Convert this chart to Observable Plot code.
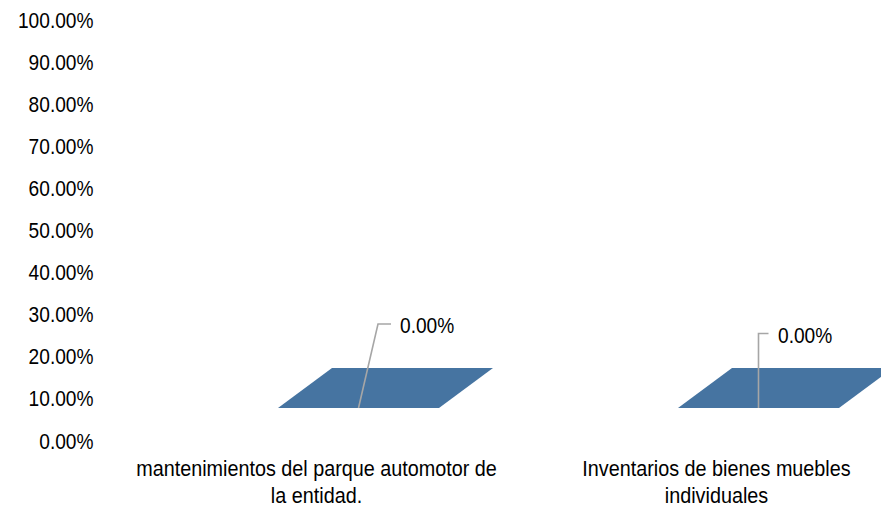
<!DOCTYPE html>
<html>
<head>
<meta charset="utf-8">
<script src="https://cdn.jsdelivr.net/npm/d3@7"></script>
<script src="https://cdn.jsdelivr.net/npm/@observablehq/plot@0.6"></script>
<style>
  html, body { margin: 0; padding: 0; background: #fff; overflow: hidden; }
  #chart { position: absolute; left: 0; top: 0; }
  #chart svg { max-width: none !important; }
</style>
</head>
<body>
<div id="chart"></div>
<script>
// ---- data ----
const categories = [
  "mantenimientos del parque automotor de la entidad.",
  "Inventarios de bienes muebles individuales"
];
const tickLabels = [
  "mantenimientos del parque automotor de\nla entidad.",
  "Inventarios de bienes muebles\nindividuales"
];
const values = [0, 0];
const valueLabels = ["0.00%", "0.00%"];
const yTicks = [0, 0.1, 0.2, 0.3, 0.4, 0.5, 0.6, 0.7, 0.8, 0.9, 1];

// ---- styling ----
const FONT_SIZE = 22;
const TEXT_SQUEEZE = 0.87;                   // narrow typeface look
const CAT_SQUEEZE = 0.9;
const BAR_COLOR = "#4674a1";
const FRONT_COLOR = "#3a618a";
const FRONT_LEFT = -38, FRONT_RIGHT = 123;   // front edge relative to category point
const DEPTH_X = 54, DEPTH_Y = -40;           // depth of the top face
const FLOOR_DY = -33;                        // floor front edge relative to value position
// per-label leader geometry relative to front-edge centre
const leaderStyle = [
  {ex: 19.5, ey: -84, hx: 32.5, tx: 41.5, ty: -83},
  {ex: 0, ey: -74.5, hx: 10, tx: 19.5, ty: -73}
];

const table = categories.map((c, i) => ({cat: c, value: values[i], label: valueLabels[i]}));

function bars3d(index, scales, V) {
  const g = d3.create("svg:g");
  for (const i of index) {
    const cx = V.x[i];
    const top = V.y[i] + FLOOR_DY;
    const floor = scales.y(0) + FLOOR_DY;
    const xl = cx + FRONT_LEFT, xr = cx + FRONT_RIGHT;
    if (floor - top > 0) {
      g.append("path")
        .attr("d", `M${xl},${floor}H${xr}V${top}H${xl}Z`)
        .attr("fill", FRONT_COLOR);
      g.append("path")
        .attr("d", `M${xr},${floor}L${xr + DEPTH_X},${floor + DEPTH_Y}V${top + DEPTH_Y}L${xr},${top}Z`)
        .attr("fill", FRONT_COLOR);
    }
    g.append("path")
      .attr("d", `M${xl},${top}L${xr},${top}L${xr + DEPTH_X},${top + DEPTH_Y}L${xl + DEPTH_X},${top + DEPTH_Y}Z`)
      .attr("fill", BAR_COLOR);
    const s = leaderStyle[i];
    const mx = (xl + xr) / 2;
    g.append("path")
      .attr("d", `M${mx},${top}L${mx + s.ex},${top + s.ey}L${mx + s.hx},${top + s.ey}`)
      .attr("fill", "none")
      .attr("stroke", "#a6a6a6")
      .attr("stroke-width", 1.6);
    g.append("text")
      .attr("transform", `translate(${mx + s.tx},${top + s.ty}) scale(${TEXT_SQUEEZE},1)`)
      .attr("dy", "0.35em")
      .attr("text-anchor", "start")
      .attr("fill", "#000")
      .text(table[i].label);
  }
  return g.node();
}

const chart = Plot.plot({
  width: 881,
  height: 508,
  marginLeft: 100,
  marginRight: 0,
  marginTop: 20,
  marginBottom: 67,
  style: {fontFamily: "'Liberation Sans', Arial, sans-serif", fontSize: FONT_SIZE + "px", color: "#000", background: "#fff", overflow: "visible"},
  x: {type: "point", domain: categories, range: [115, 916], padding: 0.5},
  y: {domain: [0, 1], range: [441, 20]},
  marks: [
    Plot.axisY({ticks: yTicks, tickFormat: d3.format(".2%"), tickSize: 0, tickPadding: 7, label: null, fill: "#000"}),
    Plot.axisX({tickSize: 0, tickPadding: 16, tickFormat: d => tickLabels[categories.indexOf(d)], lineHeight: 1.2, label: null, fill: "#000"}),
    Plot.dot(table, {x: "cat", y: "value", render: bars3d})
  ]
});
// narrow the axis tick labels horizontally around their anchor
chart.querySelectorAll('g[aria-label="y-axis tick label"] text').forEach(t => {
  const tr = t.getAttribute("transform") || "";
  t.setAttribute("transform", `${tr} scale(${TEXT_SQUEEZE},1)`);
});
chart.querySelectorAll('g[aria-label="x-axis tick label"] text').forEach(t => {
  const tr = t.getAttribute("transform") || "";
  t.setAttribute("transform", `${tr} scale(${CAT_SQUEEZE},1)`);
});
document.getElementById("chart").appendChild(chart);
</script>
</body>
</html>
